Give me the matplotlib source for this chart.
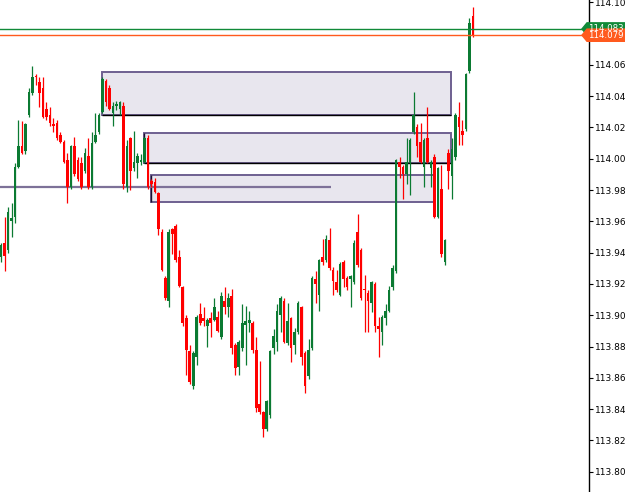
import matplotlib
matplotlib.use("Agg")
import numpy as np
from matplotlib import pyplot as plt
from matplotlib.patches import Rectangle, Polygon

# candle data, oldest first
opens = [113.937, 113.946, 113.942, 113.960, 113.963, 113.995, 114.008, 114.005, 114.028, 114.042,
         114.053, 114.049, 114.045, 114.032, 114.028, 114.022, 114.023, 114.015, 114.011, 113.999,
         113.982, 114.008, 113.999, 113.997, 113.992, 114.002, 113.982, 114.011, 114.017, 114.030,
         114.050, 114.045, 114.029, 114.034, 114.032, 114.034, 113.982, 114.013, 113.994, 113.997,
         113.998, 113.998, 114.013, 113.986, 113.985, 113.978, 113.953, 113.924, 113.909, 113.955,
         113.957, 113.937, 113.918, 113.898, 113.877, 113.855, 113.873, 113.901, 113.898, 113.893,
         113.898, 113.897, 113.899, 113.886, 113.909, 113.905, 113.912, 113.881, 113.867, 113.879,
         113.894, 113.895, 113.895, 113.878, 113.843, 113.838, 113.827, 113.836, 113.879, 113.883,
         113.900, 113.909, 113.882, 113.898, 113.881, 113.889, 113.905, 113.876, 113.861, 113.879,
         113.923, 113.913, 113.937, 113.935, 113.948, 113.929, 113.921, 113.913, 113.934, 113.924,
         113.923, 113.921, 113.953, 113.942, 113.917, 113.914, 113.908, 113.920, 113.893, 113.889,
         113.898, 113.903, 113.918, 113.928, 113.998, 113.995, 113.990, 113.997, 114.017, 114.020,
         114.011, 113.995, 114.013, 113.994, 114.001, 113.963, 113.981, 113.934, 114.004, 113.989,
         114.001, 114.027, 114.018, 114.019, 114.056, 114.091]
highs = [113.946, 113.963, 113.969, 113.972, 113.997, 114.025, 114.024, 114.023, 114.045, 114.059,
         114.054, 114.052, 114.052, 114.036, 114.033, 114.026, 114.025, 114.017, 114.012, 114.004,
         114.009, 114.014, 114.001, 114.001, 114.007, 114.013, 114.017, 114.029, 114.029, 114.052,
         114.051, 114.047, 114.036, 114.037, 114.037, 114.036, 114.012, 114.014, 114.018, 114.004,
         114.003, 114.014, 114.015, 113.987, 113.988, 113.979, 113.955, 113.925, 113.955, 113.956,
         113.958, 113.942, 113.919, 113.900, 113.881, 113.877, 113.900, 113.908, 113.905, 113.898,
         113.902, 113.911, 113.903, 113.915, 113.918, 113.914, 113.917, 113.882, 113.884, 113.907,
         113.906, 113.903, 113.896, 113.886, 113.871, 113.839, 113.846, 113.878, 113.891, 113.907,
         113.912, 113.911, 113.908, 113.899, 113.892, 113.909, 113.906, 113.877, 113.885, 113.925,
         113.928, 113.936, 113.949, 113.951, 113.956, 113.931, 113.929, 113.934, 113.935, 113.925,
         113.926, 113.948, 113.965, 113.943, 113.926, 113.916, 113.922, 113.921, 113.899, 113.900,
         113.907, 113.919, 113.932, 114.000, 114.001, 113.996, 114.013, 114.013, 114.043, 114.022,
         114.023, 114.013, 114.033, 113.999, 114.003, 113.995, 113.996, 113.949, 114.006, 114.013,
         114.029, 114.036, 114.025, 114.055, 114.090, 114.097]
lows = [113.934, 113.928, 113.940, 113.950, 113.959, 113.994, 114.003, 114.003, 114.027, 114.041,
        114.047, 114.033, 114.026, 114.025, 114.021, 114.017, 114.012, 114.010, 113.997, 113.972,
        113.981, 113.989, 113.986, 113.981, 113.991, 113.981, 113.981, 114.010, 114.016, 114.029,
        114.034, 114.031, 114.021, 114.031, 114.028, 113.981, 113.979, 113.980, 113.992, 113.988,
        113.996, 113.997, 113.981, 113.982, 113.978, 113.951, 113.928, 113.910, 113.905, 113.939,
        113.934, 113.918, 113.893, 113.862, 113.856, 113.853, 113.868, 113.894, 113.893, 113.880,
        113.886, 113.896, 113.889, 113.885, 113.901, 113.899, 113.875, 113.862, 113.862, 113.877,
        113.868, 113.889, 113.876, 113.838, 113.837, 113.822, 113.826, 113.834, 113.875, 113.877,
        113.889, 113.882, 113.881, 113.870, 113.875, 113.888, 113.868, 113.850, 113.859, 113.878,
        113.908, 113.903, 113.932, 113.934, 113.929, 113.913, 113.915, 113.912, 113.918, 113.916,
        113.905, 113.920, 113.931, 113.910, 113.889, 113.889, 113.902, 113.889, 113.873, 113.881,
        113.894, 113.902, 113.916, 113.927, 113.988, 113.974, 113.984, 113.977, 114.016, 114.001,
        113.997, 113.982, 113.997, 113.982, 113.962, 113.962, 113.937, 113.932, 113.981, 113.974,
        113.999, 114.009, 114.009, 114.018, 114.055, 114.078]
closes = [113.945, 113.938, 113.966, 113.962, 113.995, 114.008, 114.004, 114.022, 114.043, 114.052,
          114.052, 114.042, 114.027, 114.027, 114.023, 114.021, 114.013, 114.011, 113.998, 113.982,
          114.008, 113.990, 113.987, 113.982, 114.004, 113.982, 114.010, 114.015, 114.028, 114.051,
          114.036, 114.032, 114.034, 114.035, 114.036, 113.984, 114.008, 113.992, 113.998, 114.002,
          113.999, 114.013, 113.982, 113.984, 113.979, 113.955, 113.929, 113.911, 113.953, 113.952,
          113.935, 113.919, 113.895, 113.878, 113.857, 113.876, 113.899, 113.895, 113.896, 113.897,
          113.895, 113.905, 113.890, 113.912, 113.905, 113.911, 113.879, 113.866, 113.883, 113.895,
          113.896, 113.897, 113.878, 113.841, 113.838, 113.827, 113.845, 113.877, 113.887, 113.903,
          113.911, 113.883, 113.896, 113.879, 113.889, 113.908, 113.873, 113.855, 113.878, 113.924,
          113.920, 113.935, 113.934, 113.949, 113.930, 113.922, 113.916, 113.933, 113.923, 113.918,
          113.925, 113.946, 113.932, 113.911, 113.916, 113.909, 113.921, 113.893, 113.891, 113.899,
          113.903, 113.916, 113.930, 113.999, 113.995, 113.990, 113.998, 114.012, 114.028, 114.008,
          113.998, 114.012, 113.998, 113.998, 113.963, 113.994, 113.939, 113.948, 113.992, 114.006,
          114.028, 114.020, 114.015, 114.054, 114.087, 114.079]

# zones drawn on the chart: (first bar, last bar, top price, bottom price)
zone_starts = [29, 41, 43]
zone_ends = [128.7, 128.7, 124.2]
zone_tops = [114.0555, 114.0162, 113.9897]
zone_bottoms = [114.0277, 113.9972, 113.9722]

level_price = 113.9817
level_end = 94.3
bid_price = 114.079
ask_price = 114.083

bull = '#0b7a32'
bear = '#ff0000'
zone_edge = '#6e6090'
zone_fill = '#e8e6ee'

fig = plt.figure(figsize=(6.25, 4.92), dpi=100)
ax = fig.add_axes([0, 0, 589 / 625, 1])

# zones
for x0, x1, top, bot in zip(zone_starts, zone_ends, zone_tops, zone_bottoms):
    ax.add_patch(Rectangle((x0, bot), x1 - x0, top - bot, facecolor=zone_fill,
                           edgecolor=zone_edge, linewidth=1.4, zorder=1))
ax.hlines([zone_bottoms[0], zone_bottoms[1]], zone_starts[:2], zone_ends[:2],
          color='black', linewidth=1.0, zorder=2)
ax.vlines([zone_starts[1], zone_starts[2]], [zone_bottoms[1], zone_bottoms[2]],
          [zone_tops[1], zone_tops[2]], color='#1a1030', linewidth=1.0, zorder=2)

# horizontal level line
ax.hlines(level_price, -1, level_end, color='#7d7198', linewidth=1.6, zorder=2)

# candles
x = np.arange(len(opens))
o = np.array(opens)
c = np.array(closes)
colors = [bull if cc >= oo else bear for oo, cc in zip(o, c)]
ax.vlines(x, lows, highs, color=colors, linewidth=0.9, zorder=3)
body = np.maximum(np.abs(c - o), 0.0008)
ax.bar(x, body, bottom=np.minimum(o, c), width=0.75, color=colors, linewidth=0, zorder=4)

# bid / ask lines
ax.axhline(ask_price, color='#108a38', linewidth=1.0, zorder=5)
ax.axhline(bid_price, color='#ff5a1e', linewidth=1.0, zorder=5)

ax.set_xlim(-0.29, 168.2)
ax.set_ylim(113.787, 114.1015)

# price axis on the right
ax.yaxis.tick_right()
ticks = np.round(np.arange(113.80, 114.101, 0.02), 3)
ax.set_yticks(ticks)
ax.set_yticklabels(['%.3f' % t for t in ticks])
ax.tick_params(axis='y', direction='out', length=3, width=0.8, pad=1.5,
               labelsize=6.5, colors='black')
ax.set_xticks([])
for side in ['left', 'top', 'bottom']:
    ax.spines[side].set_visible(False)
ax.spines['right'].set_linewidth(1.0)

# price tags on the scale
tr = ax.get_yaxis_transform()
h = 0.0039
for price, col in [(ask_price, '#108a38'), (bid_price, '#ff5a1e')]:
    pts = [(582 / 589, price), (587 / 589, price + h), (1.07, price + h),
           (1.07, price - h), (587 / 589, price - h)]
    ax.add_patch(Polygon(pts, closed=True, transform=tr, facecolor=col,
                         edgecolor=col, clip_on=False, zorder=10))
    ax.text(588 / 589, price, '%.3f' % price, transform=tr, color='white',
            fontsize=6.2, va='center', ha='left', clip_on=False, zorder=11)

fig.savefig('out.png', dpi=100, facecolor='white')
